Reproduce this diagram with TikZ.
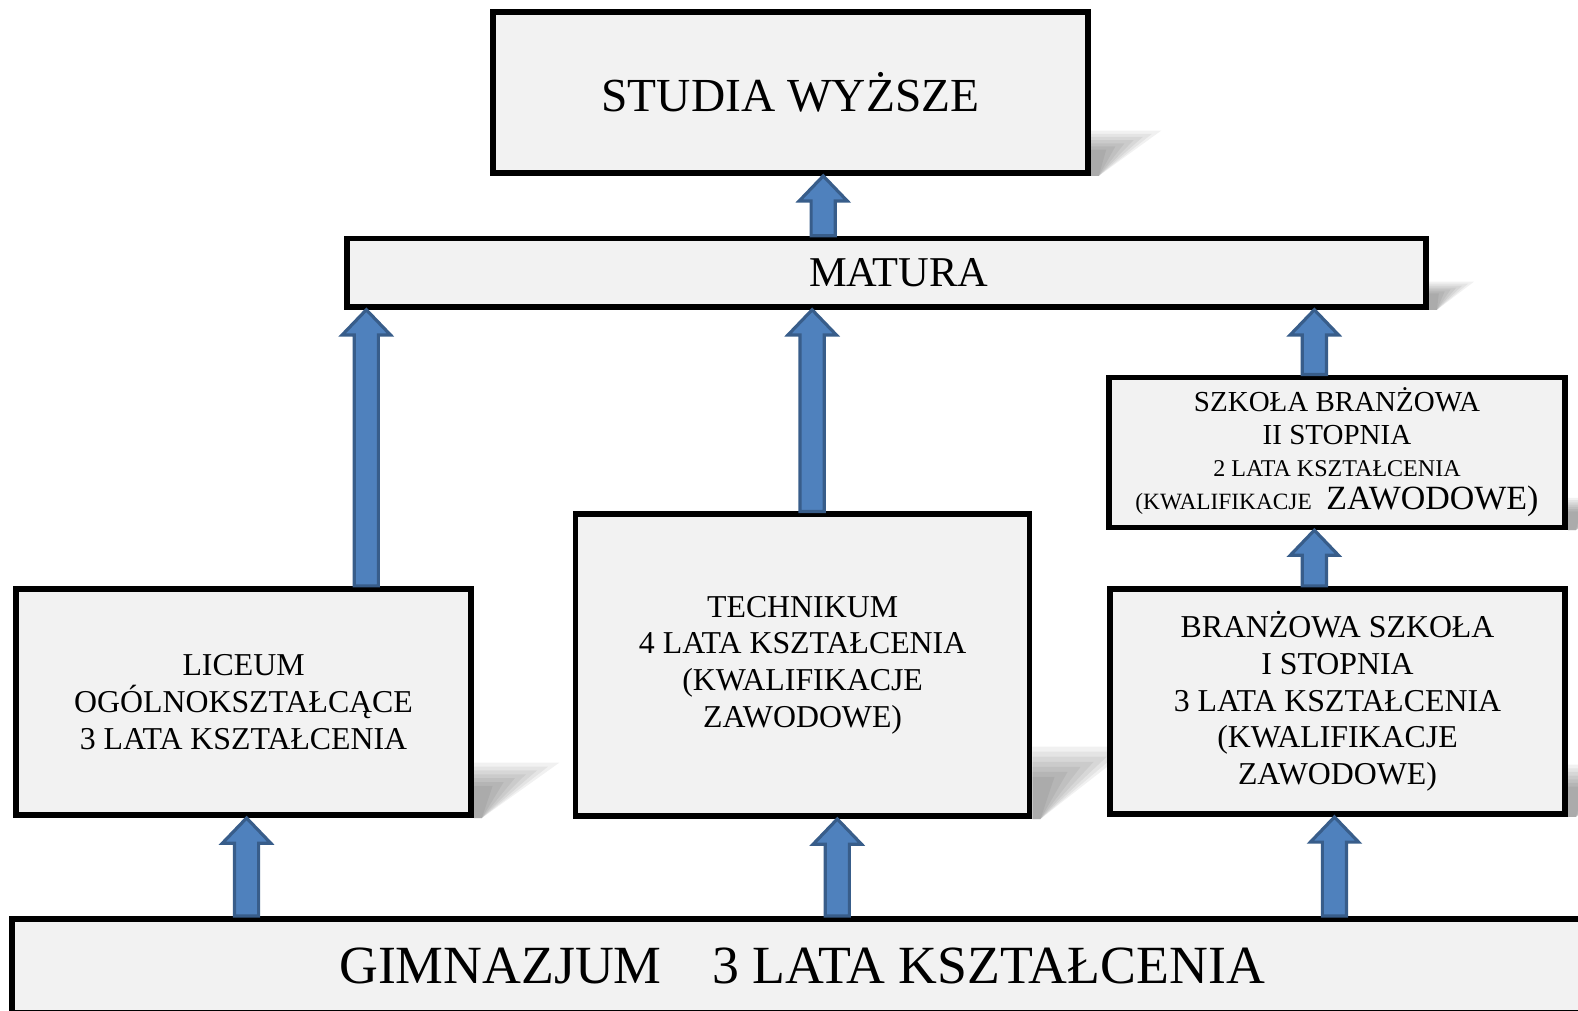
\documentclass[tikz,border=0pt]{standalone}
\usepackage{fontspec}
\setmainfont{Liberation Serif}
\usetikzlibrary{backgrounds}

\definecolor{boxgray}{HTML}{F2F2F2}
\definecolor{arrblue}{HTML}{4F81BD}
\definecolor{arrborder}{HTML}{385D8A}

% block arrow from base coordinate #1 up to tip coordinate #2
\newcommand{\blkarrow}[2]{%
	\draw[blkarr] ([xshift=-0.12cm]#1) -- ([xshift=-0.12cm,yshift=-0.25cm]#2)
		-- ([xshift=-0.24cm,yshift=-0.25cm]#2) -- (#2)
		-- ([xshift=0.24cm,yshift=-0.25cm]#2) -- ([xshift=0.12cm,yshift=-0.25cm]#2)
		-- ([xshift=0.12cm]#1) -- cycle;}
% soft shadow at the lower right of node #1, width #2, height #3
\newcommand{\boxshadow}[3]{%
	\foreach \i in {0,...,6}
		\fill[shadowfill] (#1.south east) -- ([yshift={#3*(1-0.07*\i)}]#1.south east)
			-- ([xshift={#2*(1-0.13*\i)},yshift={#3*(1-0.07*\i)}]#1.south east)
			-- ([xshift=0.08cm]#1.south east) -- cycle;}

\begin{document}
\begin{tikzpicture}[
		box/.style={draw=black,line width=1.6pt,fill=boxgray,align=center,inner sep=2pt},
		small/.style={font=\fontsize{9}{10.4}\selectfont},
		blkarr/.style={fill=arrblue,draw=arrborder,line width=0.9pt,line join=miter},
		shadowfill/.style={fill=black,fill opacity=0.055}]
		\useasboundingbox (0,0) rectangle (15.68,10.04);
		\clip (0,0) rectangle (15.68,10.04);
		\node[box,minimum width=5.91cm,minimum height=1.6cm,font=\fontsize{13.4}{16}\selectfont] (studia) at (7.855,9.12) {STUDIA WYŻSZE};
		\node[box,minimum width=10.72cm,minimum height=0.68cm,font=\fontsize{12}{14}\selectfont] (matura) at (8.81,7.33) {\hspace{0.24cm}MATURA};
		\node[box,small,minimum width=4.52cm,minimum height=2.25cm] (liceum) at (2.42,3.065) {LICEUM\\OGÓLNOKSZTAŁCĄCE\\ 3 LATA KSZTAŁCENIA};
		\node[box,small,minimum width=4.51cm,minimum height=3cm] (techn) at (7.975,3.43) {TECHNIKUM\\ 4 LATA KSZTAŁCENIA\\(KWALIFIKACJE\\ZAWODOWE)};
		\node[box,minimum width=4.53cm,minimum height=1.49cm,font=\fontsize{8.2}{9.2}\selectfont] (szkola2) at (13.285,5.545) {SZKOŁA BRANŻOWA\\II STOPNIA\\{\fontsize{6.8}{9.2}\selectfont 2 LATA KSZTAŁCENIA}\\{\fontsize{6.6}{9.2}\selectfont (KWALIFIKACJE}\ \ {\fontsize{9.6}{9.2}\selectfont ZAWODOWE)}};
		\node[box,small,minimum width=4.52cm,minimum height=2.24cm] (szkola1) at (13.29,3.07) {BRANŻOWA SZKOŁA\\I STOPNIA\\3 LATA KSZTAŁCENIA\\(KWALIFIKACJE\\ZAWODOWE)};
		\node[box,minimum width=15.7cm,minimum height=0.93cm,font=\fontsize{15.2}{18}\selectfont] (gimn) at (7.97,0.445) {GIMNAZJUM\hspace{0.5cm}3 LATA KSZTAŁCENIA};
		\begin{scope}[on background layer]
			\boxshadow{studia}{0.7cm}{0.45cm}
			\boxshadow{matura}{0.45cm}{0.28cm}
			\boxshadow{liceum}{0.85cm}{0.55cm}
			\boxshadow{techn}{1cm}{0.72cm}
			\boxshadow{szkola2}{0.6cm}{0.32cm}
			\boxshadow{szkola1}{0.8cm}{0.52cm}
		\end{scope}
		\coordinate (a1) at (8.18,0 |- matura.north);
		\coordinate (b1) at (8.18,0 |- studia.south);
		\coordinate (a2) at (3.64,0 |- liceum.north);
		\coordinate (b2) at (3.64,0 |- matura.south);
		\coordinate (a3) at (8.07,0 |- techn.north);
		\coordinate (b3) at (8.07,0 |- matura.south);
		\coordinate (a4) at (13.06,0 |- szkola2.north);
		\coordinate (b4) at (13.06,0 |- matura.south);
		\coordinate (a5) at (13.06,0 |- szkola1.north);
		\coordinate (b5) at (13.06,0 |- szkola2.south);
		\coordinate (a6) at (2.45,0 |- gimn.north);
		\coordinate (b6) at (2.45,0 |- liceum.south);
		\coordinate (a7) at (8.32,0 |- gimn.north);
		\coordinate (b7) at (8.32,0 |- techn.south);
		\coordinate (a8) at (13.26,0 |- gimn.north);
		\coordinate (b8) at (13.26,0 |- szkola1.south);
		\blkarrow{a1}{b1}
		\blkarrow{a2}{b2}
		\blkarrow{a3}{b3}
		\blkarrow{a4}{b4}
		\blkarrow{a5}{b5}
		\blkarrow{a6}{b6}
		\blkarrow{a7}{b7}
		\blkarrow{a8}{b8}
	\end{tikzpicture}
\end{document}
